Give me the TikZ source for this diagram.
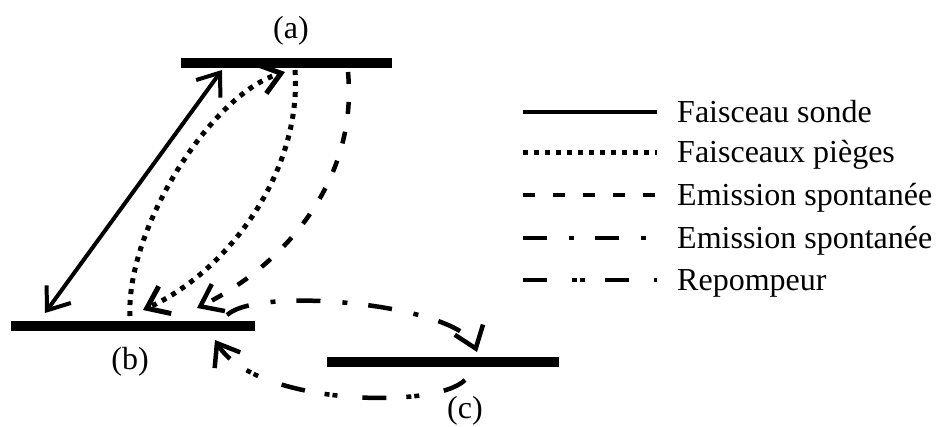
\documentclass[tikz,border=0pt]{standalone}
\usepackage{fontspec}
\setmainfont{Liberation Serif}
\usetikzlibrary{arrows.meta}

\begin{document}
\begin{tikzpicture}[x=1pt, y=-1pt, >={Straight Barb[length=20pt,width=30pt]}]

        \useasboundingbox (0,0) rectangle (939,426);

        % Stili delle linee e dei testi
        \tikzset{niveau/.style={line width=10pt},
                 sonde/.style={line width=4pt},
                 pieges/.style={line width=5pt, dash pattern=on 5pt off 6pt},
                 spont/.style={line width=4.5pt, dash pattern=on 12pt off 18pt},
                 spontb/.style={line width=4.5pt, dash pattern=on 24pt off 22pt on 5pt off 21pt},
                 repomp/.style={line width=4.5pt, dash pattern=on 24pt off 25pt on 5pt off 3pt on 5pt off 20pt},
                 etiq/.style={font=\fontsize{32}{38}\selectfont, inner sep=0pt}}

        % Niveaux (a), (b), (c)
        \coordinate (a-g) at (181,63);
        \coordinate (a-d) at (392,63);
        \coordinate (b-g) at (11,326);
        \coordinate (b-d) at (255,326);
        \coordinate (c-g) at (327,362);
        \coordinate (c-d) at (559,362);
        \draw[niveau] (a-g) -- (a-d);
        \draw[niveau] (b-g) -- (b-d);
        \draw[niveau] (c-g) -- (c-d);

        \node[etiq] (lab-a) at (291,31) {(a)};
        \node[etiq] (lab-b) at (130,362) {(b)};
        \node[etiq] (lab-c) at (465,411) {(c)};

        % Extremites des transitions
        \coordinate (sonde-b) at (45,313);
        \coordinate (sonde-a) at (222,70);
        \coordinate (pup-b) at (130,316);
        \coordinate (pup-a) at (285,72);
        \coordinate (pdn-a) at (295,70);
        \coordinate (pdn-b) at (143,310);
        \coordinate (sp-a) at (348,72);
        \coordinate (sp-b) at (197,308);
        \coordinate (spb-b) at (227,315);
        \coordinate (spb-c) at (477,352);
        \coordinate (rep-c) at (465,380);
        \coordinate (rep-b) at (215,340);

        % Transitions
        \draw[sonde, <->] (sonde-b) -- (sonde-a);
        \draw[pieges, ->] (pup-b) .. controls (126,230) and (210,95) .. (pup-a);
        \draw[pieges, ->] (pdn-a) .. controls (302,170) and (230,270) .. (pdn-b);
        \draw[spont, ->] (sp-a) .. controls (358,180) and (285,265) .. (sp-b);
        \draw[spontb, ->] (spb-b) .. controls (260,285) and (460,305) .. (spb-c);
        \draw[repomp, ->] (rep-c) .. controls (435,410) and (255,405) .. (rep-b);

        % Legende
        \foreach \st/\txt/\yy in {sonde/Faisceau sonde/122, pieges/Faisceaux pièges/162,
                                  spont/Emission spontanée/205, spontb/Emission spontanée/248,
                                  repomp/Repompeur/290} {
            \node[etiq, anchor=base west] (leg-\st) at (677,\yy) {\txt};
            \draw[style=\st] ([xshift=-154pt, yshift=10pt]leg-\st.base west) -- ++(134,0);
        }

\end{tikzpicture}
\end{document}
